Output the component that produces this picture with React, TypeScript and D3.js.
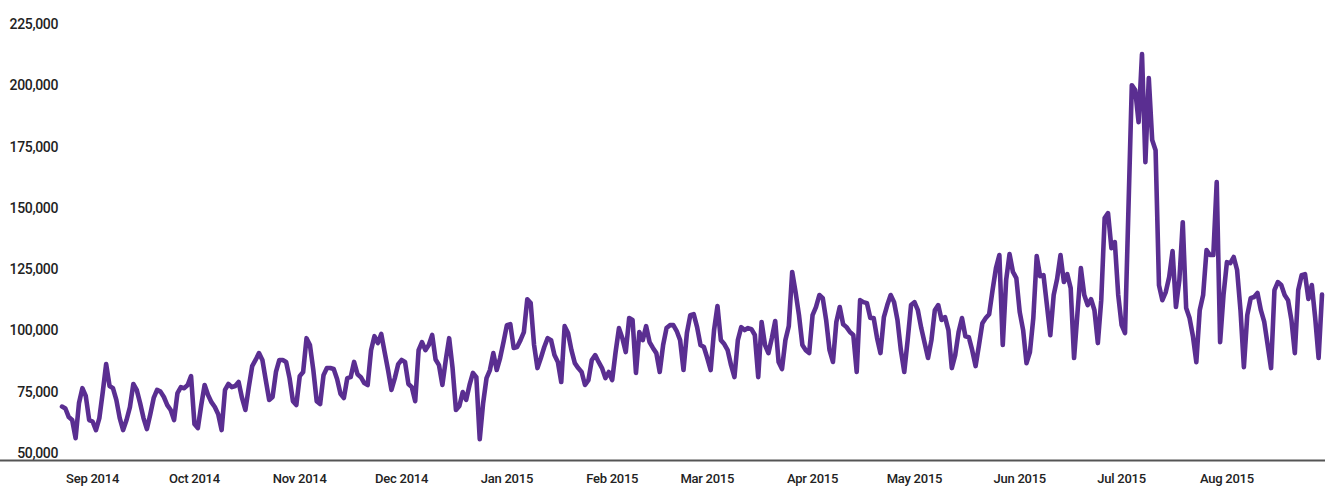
import React from "react";
import * as d3 from "d3";

// Daily series, first day 2014-08-23, one value per day
const START_DATE = "2014-08-23";
const dailyValues: number[] = [
  71800, 71000, 67500, 66300, 58900, 73200, 79300, 76100, 66300, 65700,
  62200, 67100, 77700, 89100, 80200, 79300, 74500, 67100, 62200, 66300,
  71600, 81000, 78600, 73200, 67100, 62600, 68700, 75300, 78600, 77900,
  75700, 72400, 70400, 66300, 77300, 79700, 79300, 80600, 84200, 64700,
  63000, 72400, 80600, 76500, 73600, 71600, 68700, 62200, 78600, 81000,
  79700, 80200, 81800, 75300, 70400, 79700, 88300, 90800, 93600, 90800,
  82600, 74500, 75700, 85900, 90800, 90800, 90000, 83400, 74000, 72400,
  84200, 85900, 99700, 96900, 86700, 74000, 72800, 84600, 87500, 87500,
  87100, 83000, 77000, 75300, 83400, 83800, 90000, 85000, 83800, 81400,
  80600, 94800, 100500, 97700, 101400, 94000, 86700, 78600, 83400, 89100,
  90800, 90000, 81000, 79700, 74000, 94800, 98100, 94800, 96900, 101000,
  91000, 88700, 80600, 90800, 99700, 87500, 70400, 72000, 77700, 74500,
  80600, 85500, 83800, 58500, 73200, 83400, 86700, 93600, 86700, 91600,
  98100, 105000, 105400, 95700, 96100, 98900, 102200, 115600, 114000, 96900,
  87500, 91600, 96100, 99700, 98900, 92800, 90000, 81800, 104600, 101800,
  94800, 89500, 87500, 85900, 80600, 82600, 90800, 92800, 90000, 87500,
  83400, 85900, 82600, 94000, 103800, 99700, 94000, 107900, 107100, 85500,
  102200, 98900, 104600, 98100, 95700, 93600, 85900, 96900, 103800, 105000,
  105000, 102600, 98900, 86700, 101800, 109100, 109500, 104200, 96900, 96100,
  91600, 86700, 103000, 112800, 98900, 97300, 94800, 88700, 83800, 98900,
  104200, 103000, 103800, 103400, 101000, 83800, 106300, 96900, 93600, 99700,
  106700, 90000, 87100, 98900, 104600, 126700, 118500, 109100, 96900, 94800,
  93600, 109100, 112400, 117300, 116000, 107100, 94800, 90000, 106300, 112400,
  105400, 104200, 102200, 101000, 85900, 115200, 114400, 114000, 107900, 107900,
  99700, 93600, 108300, 113200, 117300, 114400, 107100, 94800, 85900, 98900,
  113200, 114400, 111100, 103800, 97700, 91600, 98900, 111100, 113200, 107100,
  108300, 103000, 87500, 92800, 102200, 107900, 100500, 100100, 94800, 88300,
  96900, 105800, 107900, 109500, 119300, 128300, 133600, 96900, 123400, 134000,
  126700, 124200, 110300, 103000, 89500, 94000, 107900, 133200, 125000, 125400,
  113200, 100900, 117300, 123800, 133600, 122600, 125800, 120100, 91600, 109900,
  128300, 117300, 113200, 115600, 111100, 97700, 115200, 148700, 150700, 136400,
  138900, 117300, 105000, 101800, 151900, 202900, 200900, 187800, 215600, 171500,
  205800, 180500, 176400, 121300, 115200, 118500, 124600, 135200, 112400, 123400,
  147000, 112000, 107900, 100500, 89900, 111100, 117300, 135600, 133600, 133600,
  163400, 98100, 117300, 130700, 130300, 132800, 127500, 111100, 87900, 109100,
  116000, 116500, 118100, 111100, 106300, 96900, 87500, 119300, 122600, 121400,
  117300, 115200, 107100, 93600, 119300, 125400, 125800, 115700, 121400, 107900,
  91600, 117500,
];

const yTickValues = [50000, 75000, 100000, 125000, 150000, 175000, 200000, 225000];
const xTickMonths = [
  "2014-09-01", "2014-10-01", "2014-11-01", "2014-12-01", "2015-01-01", "2015-02-01",
  "2015-03-01", "2015-04-01", "2015-05-01", "2015-06-01", "2015-07-01", "2015-08-01",
];

const W = 1325;
const H = 486;

type Pt = { date: Date; value: number };

export default function App() {
  const parse = d3.utcParse("%Y-%m-%d");
  const start = parse(START_DATE) as Date;
  const data: Pt[] = dailyValues.map((v, i) => ({ date: d3.utcDay.offset(start, i), value: v }));
  const end = data[data.length - 1].date;

  const x = d3.scaleUtc().domain([start, end]).range([62, 1322]);
  const y = d3.scaleLinear().domain([50000, 225000]).range([460, 31]);

  const line = d3
    .line<Pt>()
    .x((d) => x(d.date))
    .y((d) => y(d.value));

  const fmt = d3.format(",");
  const monthFmt = d3.utcFormat("%b %Y");
  const font = "Roboto, 'Noto Sans', sans-serif";

  return (
    <svg
      width={W}
      height={H}
      viewBox={`0 0 ${W} ${H}`}
      style={{ position: "absolute", left: 0, top: 0, background: "#fff" }}
    >
      <rect x={0} y={0} width={W} height={H} fill="#fff" />
      <path
        d={line(data) || ""}
        fill="none"
        stroke="#5a2e91"
        strokeWidth={4.6}
        strokeLinejoin="round"
        strokeLinecap="round"
      />
      <line x1={0} x2={W} y1={460.5} y2={460.5} stroke="#555" strokeWidth={2} />
      {yTickValues.map((v) => (
        <text
          key={v}
          x={58}
          y={y(v) - 2}
          textAnchor="end"
          fontFamily={font}
          fontWeight={500}
          fontSize={14}
          letterSpacing={-0.35}
          fill="#222"
        >
          {fmt(v)}
        </text>
      ))}
      {xTickMonths.map((m) => {
        const d = parse(m) as Date;
        return (
          <text
            key={m}
            x={x(d)}
            y={483}
            textAnchor="middle"
            fontFamily={font}
            fontWeight={500}
            fontSize={13}
            letterSpacing={-0.25}
            fill="#222"
          >
            {monthFmt(d)}
          </text>
        );
      })}
    </svg>
  );
}
